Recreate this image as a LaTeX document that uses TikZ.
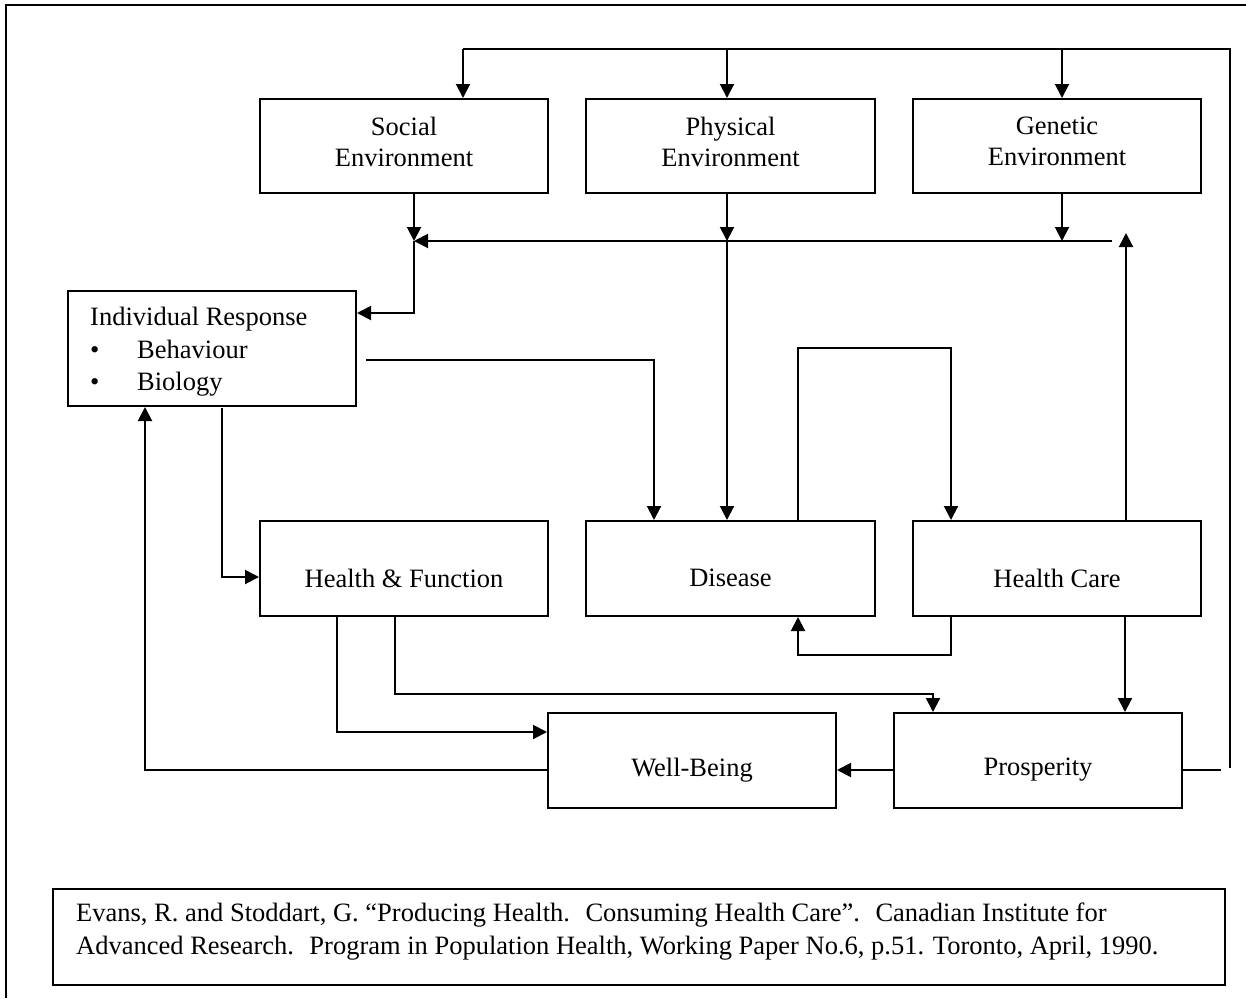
\documentclass[tikz,border=0pt]{standalone}
\usepackage{fontspec}
\setmainfont{Liberation Serif}
\usetikzlibrary{arrows.meta}
\begin{document}
\begin{tikzpicture}[x=1pt,y=-1pt,
  every node/.style={font=\fontsize{26.5}{31}\selectfont},
  box/.style={draw,line width=2pt,inner sep=0pt,minimum width=288pt,minimum height=95pt},
  lbl/.style={inner sep=0pt,align=center},
  conn/.style={line width=2pt},
  arr/.style={line width=2pt,-{Triangle[length=14pt,width=14pt]}}]
\useasboundingbox (0,0) rectangle (1246,998);
\fill[white] (0,0) rectangle (1246,998);
% outer frame
\draw[line width=2.5pt] (6,998) -- (6,5) -- (1246,5);
% boxes
\node[box,minimum height=94pt] (soc) at (404,146) {};
\node[box,minimum height=94pt,minimum width=289pt] (phy) at (730.5,146) {};
\node[box,minimum height=94pt] (gen) at (1057,146) {};
\node[lbl] (soct) at (404,141.5) {Social\\Environment};
\node[lbl] (phyt) at (730.5,141.5) {Physical\\Environment};
\node[lbl] (gent) at (1057,141.5) {Genetic\\Environment};
\node[box,minimum height=115pt] (ir) at (212,348.5) {};
\node[anchor=base west,inner sep=0pt] (irt) at (90,325) {Individual Response};
\node[anchor=base west,inner sep=0pt] (b1) at (90,358) {\textbullet};
\node[anchor=base west,inner sep=0pt] (b1t) at (137,358) {Behaviour};
\node[anchor=base west,inner sep=0pt] (b2) at (90,390) {\textbullet};
\node[anchor=base west,inner sep=0pt] (b2t) at (137,390) {Biology};
\node[box] (hf) at (404,568.5) {};
\node[box,minimum width=289pt] (dis) at (730.5,568.5) {};
\node[box] (hc) at (1057,568.5) {};
\node[lbl] (hft) at (404,578) {Health \& Function};
\node[lbl] (dist) at (730.5,578) {Disease};
\node[lbl] (hct) at (1057,578) {Health Care};
\node[box] (wb) at (692,760.5) {};
\node[box] (pro) at (1038,760.5) {};
\node[lbl] (wbt) at (692,770) {Well-Being};
\node[lbl] (prot) at (1038,770) {Prosperity};
\node[box,minimum width=1172pt,minimum height=96pt] (cit) at (639,937) {};
\node[anchor=base west,inner sep=0pt] (cit1) at (76,921) {Evans, R. and Stoddart, G. “Producing Health.~ Consuming Health Care”.~ Canadian Institute for};
\node[anchor=base west,inner sep=0pt] (cit2) at (76,954) {Advanced Research.~ Program in Population Health, Working Paper No.6, p.51. Toronto, April, 1990.};
% coordinates
\coordinate (p1) at (1221,770);
\coordinate (fbbot) at (1230,768);
\coordinate (fbtop) at (1230,49);
\coordinate (t1) at (463,49);
\coordinate (t2) at (727,49);
\coordinate (t3) at (1062,49);
\coordinate (j1) at (414,241);
\coordinate (j2) at (727,241);
\coordinate (j3) at (1062,241);
\coordinate (hr) at (1112,241);
\coordinate (hcup) at (1126,233);
\coordinate (irout) at (366,360);
\coordinate (irdown) at (222,408);
% feedback loop from prosperity
\draw[conn] (pro.east |- p1) -- (p1);
\draw[conn] (fbbot) -- (fbtop) -- (t1);
\draw[arr] (t1) -- (soc.north -| t1);
\draw[arr] (t2) -- (phy.north -| t2);
\draw[arr] (t3) -- (gen.north -| t3);
% environment outputs
\draw[arr] (soc.south -| j1) -- (j1);
\draw[arr] (hr) -- (j1);
\draw[arr] (j1) -- (414,313) -- (ir.east |- 0,313);
\draw[arr] (phy.south -| j2) -- (j2);
\draw[arr] (j2) -- (dis.north -| j2);
\draw[arr] (gen.south -| j3) -- (j3);
\draw[arr] (hc.north -| hcup) -- (hcup);
% individual response
\draw[arr] (irout) -- (654,360) -- (dis.north -| 654,0);
\draw[arr] (irdown) -- (222,577) -- (hf.west |- 0,577);
\draw[arr] (wb.west |- 0,770) -- (145,770) -- (ir.south -| 145,0);
% disease / health care loop
\draw[arr] (dis.north -| 798,0) -- (798,348) -- (951,348) -- (hc.north -| 951,0);
\draw[arr] (hc.south -| 951,0) -- (951,655) -- (798,655) -- (dis.south -| 798,0);
\draw[arr] (hc.south -| 1125,0) -- (pro.north -| 1125,0);
% health & function outputs
\draw[arr] (hf.south -| 337,0) -- (337,732) -- (wb.west |- 0,732);
\draw[arr] (hf.south -| 395,0) -- (395,694) -- (933,694) -- (pro.north -| 933,0);
% prosperity to well-being
\draw[arr] (pro.west |- 0,770) -- (wb.east |- 0,770);
\end{tikzpicture}
\end{document}
